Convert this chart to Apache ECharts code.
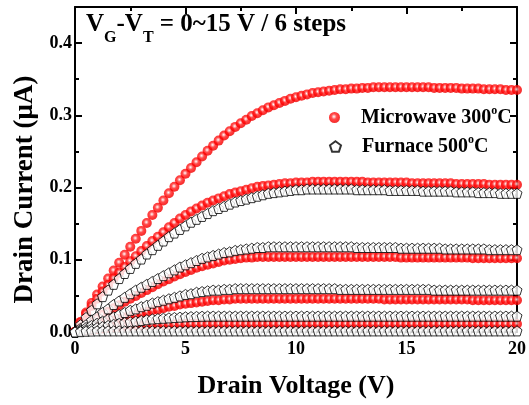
<!DOCTYPE html>
<html>
<head>
<meta charset="utf-8">
<script src="https://cdn.jsdelivr.net/npm/echarts@6/dist/echarts.min.js"></script>
<style>
html, body { margin: 0; padding: 0; background: #fff; }
#chart { width: 529px; height: 405px; }
</style>
</head>
<body>
<div id="chart"></div>
<script>
// drain voltage sweep, 0.25 V step
var vd = [0,0.25,0.5,0.75,1,1.25,1.5,1.75,2,2.25,
    2.5,2.75,3,3.25,3.5,3.75,4,4.25,4.5,4.75,
    5,5.25,5.5,5.75,6,6.25,6.5,6.75,7,7.25,
    7.5,7.75,8,8.25,8.5,8.75,9,9.25,9.5,9.75,
    10,10.25,10.5,10.75,11,11.25,11.5,11.75,12,12.25,
    12.5,12.75,13,13.25,13.5,13.75,14,14.25,14.5,14.75,
    15,15.25,15.5,15.75,16,16.25,16.5,16.75,17,17.25,
    17.5,17.75,18,18.25,18.5,18.75,19,19.25,19.5,19.75,
    20];

// Microwave 300C, drain current (uA)
var mw15 = [0,0.014,0.027,0.040,0.052,0.063,0.074,0.085,0.096,0.107,
    0.118,0.129,0.140,0.151,0.162,0.172,0.182,0.192,0.201,0.210,
    0.219,0.227,0.235,0.243,0.251,0.258,0.265,0.272,0.278,0.284,
    0.289,0.294,0.299,0.303,0.307,0.311,0.314,0.317,0.320,0.323,
    0.325,0.327,0.329,0.331,0.332,0.333,0.334,0.335,0.336,0.336,
    0.337,0.337,0.338,0.338,0.339,0.339,0.339,0.339,0.339,0.339,
    0.339,0.339,0.339,0.339,0.339,0.338,0.338,0.338,0.338,0.338,
    0.337,0.337,0.337,0.337,0.336,0.336,0.336,0.336,0.335,0.335,
    0.335];
var mw12 = [0,0.013,0.025,0.036,0.046,0.056,0.065,0.074,0.082,0.090,
    0.098,0.105,0.112,0.119,0.126,0.132,0.138,0.145,0.151,0.157,
    0.162,0.167,0.171,0.175,0.179,0.182,0.185,0.188,0.191,0.193,
    0.195,0.197,0.199,0.201,0.202,0.203,0.204,0.205,0.206,0.206,
    0.207,0.207,0.207,0.208,0.208,0.208,0.208,0.208,0.208,0.208,
    0.208,0.208,0.208,0.207,0.207,0.207,0.207,0.207,0.207,0.207,
    0.207,0.206,0.206,0.206,0.206,0.206,0.206,0.206,0.206,0.205,
    0.205,0.205,0.205,0.205,0.205,0.204,0.204,0.204,0.204,0.204,
    0.204];
var mw9 = [0,0.005,0.010,0.014,0.019,0.024,0.028,0.033,0.037,0.042,
    0.046,0.050,0.054,0.058,0.062,0.066,0.070,0.073,0.077,0.080,
    0.083,0.086,0.089,0.091,0.093,0.095,0.097,0.099,0.100,0.101,
    0.102,0.103,0.103,0.104,0.104,0.104,0.104,0.104,0.104,0.104,
    0.104,0.104,0.104,0.104,0.104,0.104,0.104,0.104,0.104,0.104,
    0.104,0.104,0.104,0.104,0.104,0.104,0.104,0.104,0.104,0.103,
    0.103,0.103,0.103,0.103,0.103,0.103,0.103,0.103,0.103,0.103,
    0.103,0.103,0.102,0.102,0.102,0.102,0.102,0.102,0.102,0.102,
    0.102];
var mw6 = [0,0.002,0.004,0.007,0.009,0.011,0.013,0.016,0.018,0.020,
    0.022,0.024,0.026,0.028,0.030,0.031,0.033,0.035,0.036,0.038,
    0.039,0.040,0.041,0.042,0.043,0.044,0.044,0.045,0.045,0.046,
    0.046,0.046,0.046,0.046,0.046,0.046,0.046,0.046,0.046,0.046,
    0.046,0.046,0.046,0.046,0.046,0.046,0.046,0.046,0.046,0.046,
    0.046,0.046,0.046,0.046,0.046,0.046,0.045,0.045,0.045,0.045,
    0.045,0.045,0.045,0.045,0.045,0.045,0.045,0.045,0.045,0.045,
    0.045,0.045,0.044,0.044,0.044,0.044,0.044,0.044,0.044,0.044,
    0.044];
var mw3 = [0,0.001,0.002,0.003,0.004,0.005,0.006,0.0065,0.007,0.0075,
    0.008,0.0085,0.009,0.0095,0.010,0.0105,0.0105,0.0105,0.0105,0.011,
    0.011,0.011,0.011,0.011,0.011,0.011,0.011,0.011,0.011,0.011,
    0.011,0.011,0.011,0.011,0.011,0.011,0.011,0.011,0.011,0.011,
    0.011,0.011,0.011,0.011,0.011,0.011,0.011,0.011,0.011,0.011,
    0.011,0.011,0.011,0.011,0.011,0.011,0.011,0.011,0.011,0.011,
    0.011,0.011,0.011,0.011,0.011,0.011,0.011,0.011,0.011,0.011,
    0.011,0.011,0.011,0.011,0.011,0.011,0.011,0.011,0.011,0.011,
    0.011];

// Furnace 500C, drain current (uA)
var fn15 = [0,0.010,0.020,0.030,0.039,0.049,0.058,0.066,0.074,0.081,
    0.088,0.095,0.101,0.108,0.114,0.120,0.126,0.132,0.137,0.142,
    0.147,0.152,0.156,0.160,0.164,0.168,0.171,0.174,0.177,0.180,
    0.182,0.184,0.186,0.188,0.190,0.192,0.193,0.194,0.195,0.196,
    0.197,0.197,0.198,0.198,0.198,0.198,0.198,0.198,0.198,0.198,
    0.198,0.197,0.197,0.197,0.197,0.197,0.197,0.196,0.196,0.196,
    0.196,0.196,0.196,0.195,0.195,0.195,0.195,0.195,0.195,0.194,
    0.194,0.194,0.194,0.193,0.193,0.193,0.193,0.192,0.192,0.192,
    0.192];
var fn12 = [0,0.005,0.010,0.016,0.021,0.027,0.032,0.038,0.043,0.048,
    0.053,0.058,0.062,0.066,0.070,0.074,0.078,0.082,0.086,0.090,
    0.093,0.096,0.099,0.102,0.104,0.106,0.108,0.110,0.111,0.113,
    0.114,0.115,0.116,0.117,0.117,0.118,0.118,0.118,0.118,0.118,
    0.118,0.118,0.118,0.118,0.118,0.118,0.118,0.118,0.118,0.118,
    0.118,0.117,0.117,0.117,0.117,0.117,0.117,0.117,0.117,0.116,
    0.116,0.116,0.116,0.116,0.116,0.116,0.116,0.115,0.115,0.115,
    0.115,0.115,0.115,0.115,0.115,0.114,0.114,0.114,0.114,0.114,
    0.114];
var fn9 = [0,0.003,0.006,0.009,0.012,0.015,0.018,0.021,0.024,0.027,
    0.030,0.032,0.035,0.037,0.040,0.042,0.044,0.046,0.048,0.050,
    0.052,0.053,0.055,0.056,0.057,0.058,0.058,0.059,0.059,0.060,
    0.060,0.060,0.060,0.060,0.060,0.060,0.060,0.060,0.060,0.060,
    0.060,0.060,0.060,0.060,0.060,0.060,0.060,0.060,0.059,0.059,
    0.059,0.059,0.059,0.059,0.059,0.059,0.059,0.059,0.059,0.059,
    0.059,0.059,0.059,0.059,0.059,0.058,0.058,0.058,0.058,0.058,
    0.058,0.058,0.058,0.058,0.058,0.058,0.058,0.058,0.058,0.058,
    0.058];
var fn6 = [0,0.0015,0.003,0.0045,0.006,0.0075,0.009,0.0105,0.012,0.013,
    0.014,0.015,0.016,0.017,0.018,0.0185,0.019,0.0195,0.020,0.0205,
    0.021,0.0213,0.0215,0.0218,0.022,0.022,0.022,0.022,0.022,0.022,
    0.022,0.022,0.022,0.022,0.022,0.022,0.022,0.022,0.022,0.022,
    0.022,0.022,0.022,0.022,0.022,0.022,0.022,0.022,0.022,0.022,
    0.022,0.022,0.022,0.022,0.022,0.022,0.022,0.022,0.022,0.022,
    0.022,0.022,0.022,0.022,0.022,0.022,0.022,0.022,0.022,0.022,
    0.022,0.022,0.022,0.022,0.022,0.022,0.022,0.022,0.022,0.022,
    0.022];
var fn3 = [0,0.0005,0.001,0.0013,0.0015,0.0015,0.0015,0.0015,0.0015,0.0015,
    0.0015,0.0015,0.0015,0.0015,0.0015,0.0015,0.0015,0.0015,0.0015,0.0015,
    0.0015,0.0015,0.0015,0.0015,0.0015,0.0015,0.0015,0.0015,0.0015,0.0015,
    0.0015,0.0015,0.0015,0.0015,0.0015,0.0015,0.0015,0.0015,0.0015,0.0015,
    0.0015,0.0015,0.0015,0.0015,0.0015,0.0015,0.0015,0.0015,0.0015,0.0015,
    0.0015,0.0015,0.0015,0.0015,0.0015,0.0015,0.0015,0.0015,0.0015,0.0015,
    0.0015,0.0015,0.0015,0.0015,0.0015,0.0015,0.0015,0.0015,0.0015,0.0015,
    0.0015,0.0015,0.0015,0.0015,0.0015,0.0015,0.0015,0.0015,0.0015,0.0015,
    0.0015];

var mwName = 'Microwave 300°C';
var fnName = 'Furnace 500°C';
var FONT = 'Liberation Serif';

var ball = {
    type: 'radial', x: 0.45, y: 0.42, r: 0.6,
    colorStops: [
        {offset: 0, color: '#ffffff'},
        {offset: 0.14, color: '#ffb4b4'},
        {offset: 0.4, color: '#ff2222'},
        {offset: 0.7, color: '#ff0000'},
        {offset: 1, color: '#e60000'}
    ]
};
var pentagon = 'path://M0,-10L9.51,-3.09L5.88,8.09L-5.88,8.09L-9.51,-3.09Z';

function pairs(ys) {
    return vd.map(function (v, i) { return [v, ys[i]]; });
}

var series = [];
[mw15, mw12, mw9, mw6, mw3].forEach(function (ys) {
    series.push({
        name: mwName, type: 'scatter', symbol: 'circle', symbolSize: 10,
        itemStyle: {color: ball},
        data: pairs(ys)
    });
});
[fn15, fn12, fn9, fn6, fn3].forEach(function (ys) {
    series.push({
        name: fnName, type: 'scatter', symbol: pentagon, symbolSize: 10,
        itemStyle: {color: '#fff', borderColor: '#000', borderWidth: 1},
        data: pairs(ys)
    });
});

// superscript "o": same box height as the line, text pushed up by bottom padding
var legendText = {
    rich: {
        f: {fontSize: 20, fontWeight: 'bold', fontFamily: FONT, color: '#000', lineHeight: 26, padding: [0, 0, 0, 16]},
        t: {fontSize: 20, fontWeight: 'bold', fontFamily: FONT, color: '#000', lineHeight: 26},
        s: {fontSize: 12, fontWeight: 'bold', fontFamily: FONT, color: '#000', lineHeight: 12, padding: [0, 0, 13, 0]}
    }
};
function legendLabel(name) {
    return name === mwName ? '{f|Microwave 300}{s|o}{t|C}' : '{f|Furnace 500}{s|o}{t|C}';
}

var axisLine = {show: true, onZero: false, lineStyle: {color: '#000', width: 2}};
var tick = {show: true, inside: true, length: 7, lineStyle: {color: '#000', width: 2}};
var minor = {show: true, splitNumber: 2, length: 4, lineStyle: {color: '#000', width: 2}};
var label = {color: '#000', fontFamily: FONT, fontWeight: 'bold', fontSize: 18};

var option = {
    backgroundColor: '#fff',
    animation: false,
    grid: {left: 75, right: 8, top: 7, bottom: 73},
    legend: [{
        data: [mwName], orient: 'vertical', left: 329, top: 105, padding: 0,
        itemWidth: 11, itemHeight: 11, formatter: legendLabel, textStyle: legendText
    }, {
        data: [fnName], orient: 'vertical', left: 329, top: 134, padding: 0,
        itemWidth: 11, itemHeight: 11, formatter: legendLabel, textStyle: legendText
    }],
    xAxis: [{
        type: 'value', min: 0, max: 20, interval: 5, position: 'bottom',
        axisLine: axisLine, axisTick: tick, minorTick: minor, splitLine: {show: false},
        axisLabel: Object.assign({margin: 8}, label),
        name: 'Drain Voltage (V)', nameLocation: 'middle', nameGap: 41,
        nameTextStyle: {color: '#000', fontFamily: FONT, fontWeight: 'bold', fontSize: 26}
    }, {
        type: 'value', min: 0, max: 20, interval: 5, position: 'top',
        axisLine: axisLine, axisTick: tick, minorTick: minor, splitLine: {show: false},
        axisLabel: {show: false}
    }],
    yAxis: [{
        type: 'value', min: 0, max: 0.45, interval: 0.1, position: 'left',
        axisLine: axisLine, axisTick: tick, minorTick: minor, splitLine: {show: false},
        axisLabel: Object.assign({margin: 3, showMaxLabel: false, formatter: function (v) { return v.toFixed(1); }}, label),
        name: 'Drain Current (μA)', nameLocation: 'middle', nameGap: 36,
        nameTextStyle: {color: '#000', fontFamily: FONT, fontWeight: 'bold', fontSize: 27, padding: [0, 40, 0, 0]}
    }, {
        type: 'value', min: 0, max: 0.45, interval: 0.1, position: 'right',
        axisLine: axisLine, axisTick: tick, minorTick: minor, splitLine: {show: false},
        axisLabel: {show: false}
    }],
    graphic: [{
        type: 'text', left: 86, top: 12,
        style: {
            text: '{m|V}{s|G}{m|-V}{s|T}{m| = 0~15 V / 6 steps}',
            rich: {
                m: {fontSize: 25, fontWeight: 'bold', fontFamily: FONT, fill: '#000', lineHeight: 28, verticalAlign: 'top'},
                s: {fontSize: 16, fontWeight: 'bold', fontFamily: FONT, fill: '#000', lineHeight: 16, verticalAlign: 'top', padding: [18, 0, 0, 0]}
            }
        }
    }],
    series: series
};

var myChart = echarts.init(document.getElementById('chart'));
myChart.setOption(option);
</script>
</body>
</html>
